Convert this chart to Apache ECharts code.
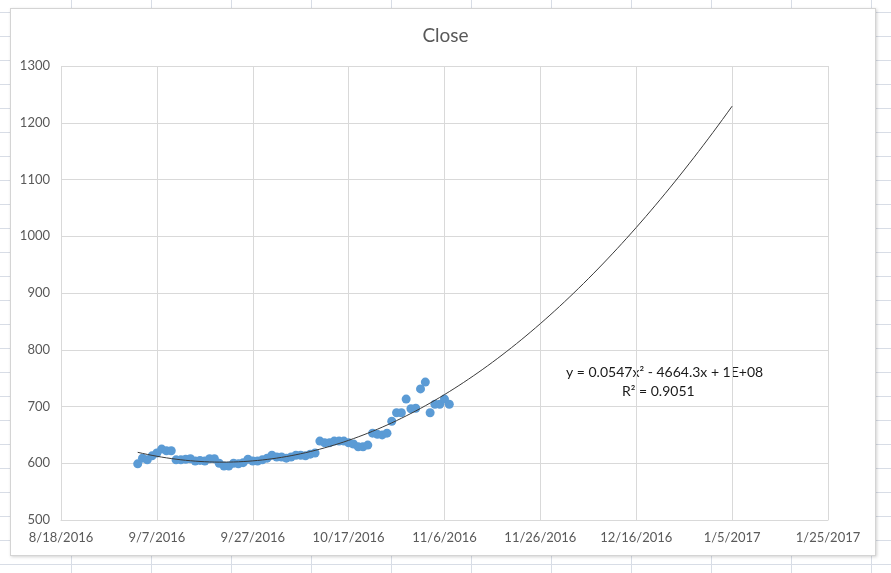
<!DOCTYPE html>
<html>
<head>
<meta charset="utf-8">
<script src="https://cdn.jsdelivr.net/npm/echarts@6/dist/echarts.min.js"></script>
<style>
  html, body { margin:0; padding:0; width:891px; height:573px; overflow:hidden; }
  body {
    background-color:#fff;
    background-image: linear-gradient(to right, #d8dde6 1px, transparent 1px),
                      linear-gradient(to bottom, #d8dde6 1px, transparent 1px);
    background-size: 80px 24px;
    background-position: 71px 12px;
  }
  #frame { position:absolute; left:10px; top:8px; width:864px; height:546px; background:#fff;
           border:1px solid #d4d4d4; box-shadow: 1px 1px 3px rgba(0,0,0,0.18); }
  #chart { position:absolute; left:0; top:0; width:891px; height:573px; }
</style>
</head>
<body>
<div id="frame"></div>
<div id="chart"></div>
<script>
// ---- data ----
const dates = [
 '9/3/2016','9/4/2016','9/5/2016','9/6/2016','9/7/2016','9/8/2016','9/9/2016','9/10/2016','9/11/2016','9/12/2016',
 '9/13/2016','9/14/2016','9/15/2016','9/16/2016','9/17/2016','9/18/2016','9/19/2016','9/20/2016','9/21/2016','9/22/2016',
 '9/23/2016','9/24/2016','9/25/2016','9/26/2016','9/27/2016','9/28/2016','9/29/2016','9/30/2016','10/1/2016','10/2/2016',
 '10/3/2016','10/4/2016','10/5/2016','10/6/2016','10/7/2016','10/8/2016','10/9/2016','10/10/2016','10/11/2016','10/12/2016',
 '10/13/2016','10/14/2016','10/15/2016','10/16/2016','10/17/2016','10/18/2016','10/19/2016','10/20/2016','10/21/2016','10/22/2016',
 '10/23/2016','10/24/2016','10/25/2016','10/26/2016','10/27/2016','10/28/2016','10/29/2016','10/30/2016','10/31/2016','11/1/2016',
 '11/2/2016','11/3/2016','11/4/2016','11/5/2016','11/6/2016','11/7/2016'
];
const closeValues = [
 599,609,606,613,618,625,622,622,606,606,
 607,608,604,605,604,608,608,600,595,595,
 600,599,601,607,604,604,606,609,614,611,
 611,609,611,614,614,613,616,618,639,636,
 636,639,639,639,636,634,629,629,632,653,
 651,650,653,674,689,689,713,696,697,731,
 743,689,704,704,713,704
];
const xAxisMin = '8/18/2016';
const xAxisMax = '1/25/2017';
const xStepDays = 20;
const trendForwardTo = '1/5/2017';
const yMin = 500, yMax = 1300, yStep = 100;
const chartTitle = 'Close';
const equationText = 'y = 0.0547x\u00B2 - 4664.3x + 1E+08';
const r2Text = 'R\u00B2 = 0.9051';

// ---- helpers ----
function toSerial(s) {
  const [m, d, y] = s.split('/').map(Number);
  return Math.round(Date.UTC(y, m - 1, d) / 86400000) + 25569;
}
function serialToLabel(v) {
  const dt = new Date((Math.round(v) - 25569) * 86400000);
  return (dt.getUTCMonth() + 1) + '/' + dt.getUTCDate() + '/' + dt.getUTCFullYear();
}
const base = toSerial(xAxisMin);
const points = dates.map((d, i) => [toSerial(d), closeValues[i]]);

// quadratic least squares trend
function quadFit(pts) {
  let S = [0,0,0,0,0], T = [0,0,0];
  pts.forEach(([x, y]) => {
    const t = x - base;
    let p = 1;
    for (let k = 0; k < 5; k++) { S[k] += p; if (k < 3) T[k] += p * y; p *= t; }
  });
  const A = [[S[0],S[1],S[2],T[0]],[S[1],S[2],S[3],T[1]],[S[2],S[3],S[4],T[2]]];
  for (let i = 0; i < 3; i++) {
    let mx = i; for (let r = i+1; r < 3; r++) if (Math.abs(A[r][i]) > Math.abs(A[mx][i])) mx = r;
    [A[i], A[mx]] = [A[mx], A[i]];
    for (let r = 0; r < 3; r++) if (r !== i) {
      const f = A[r][i] / A[i][i];
      for (let c = i; c < 4; c++) A[r][c] -= f * A[i][c];
    }
  }
  return [A[0][3]/A[0][0], A[1][3]/A[1][1], A[2][3]/A[2][2]];
}
const coef = quadFit(points);
const trend = [];
const tStart = points[0][0], tEnd = toSerial(trendForwardTo);
for (let x = tStart; x <= tEnd; x += 1) {
  const t = x - base;
  trend.push([x, coef[0] + coef[1]*t + coef[2]*t*t]);
}

const FONT = 'Lato, "Open Sans", sans-serif';
const chart = echarts.init(document.getElementById('chart'), null, { renderer: 'canvas' });
chart.setOption({
  animation: false,
  backgroundColor: 'transparent',
  title: {
    text: chartTitle, left: 'center', top: 21,
    textStyle: { fontFamily: FONT, fontSize: 19, fontWeight: 'normal', color: '#595959' }
  },
  grid: { left: 61, top: 66, right: 63, bottom: 53, containLabel: false },
  xAxis: {
    type: 'value', min: toSerial(xAxisMin), max: toSerial(xAxisMax), interval: xStepDays,
    axisLine: { show: true, lineStyle: { color: '#d9d9d9', width: 1 } },
    axisTick: { show: false },
    splitLine: { show: true, lineStyle: { color: '#d9d9d9', width: 1 } },
    axisLabel: { formatter: serialToLabel, fontFamily: FONT, fontSize: 13, color: '#595959', margin: 11,
                 showMinLabel: true, showMaxLabel: true }
  },
  yAxis: {
    type: 'value', min: yMin, max: yMax, interval: yStep,
    axisLine: { show: false }, axisTick: { show: false },
    splitLine: { show: true, lineStyle: { color: '#d9d9d9', width: 1 } },
    axisLabel: { formatter: v => String(v), fontFamily: FONT, fontSize: 13, color: '#595959', margin: 11 }
  },
  series: [
    {
      type: 'scatter', data: points, symbol: 'circle', symbolSize: 9,
      itemStyle: { color: '#5B9BD5', opacity: 1 }, z: 3
    },
    {
      type: 'line', data: trend, showSymbol: false, smooth: false,
      lineStyle: { color: '#3a3a3a', width: 1 }, z: 4
    }
  ],
  graphic: [
    { type: 'text', left: 566, top: 365,
      style: { text: equationText, fontFamily: FONT, fontSize: 14, fill: '#1a1a1a' } },
    { type: 'text', left: 622, top: 384,
      style: { text: r2Text, fontFamily: FONT, fontSize: 14, fill: '#1a1a1a' } }
  ]
});
</script>
</body>
</html>
